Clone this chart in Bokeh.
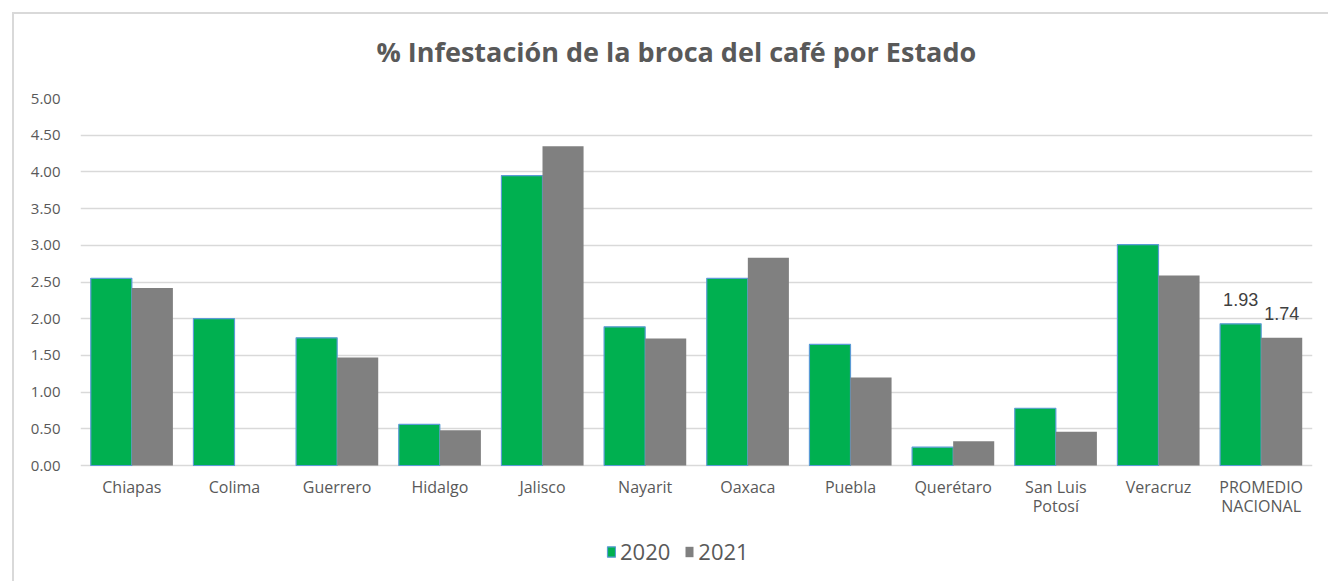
import numpy as np
from bokeh.plotting import figure
from bokeh.models import (ColumnDataSource, FactorRange, Range1d, Legend, LegendItem,
                          NumeralTickFormatter, FixedTicker, InlineStyleSheet)
from bokeh.transform import dodge
from bokeh.core.properties import value
from bokeh.embed import file_html
from bokeh.resources import INLINE

estados = ["Chiapas", "Colima", "Guerrero", "Hidalgo", "Jalisco", "Nayarit",
           "Oaxaca", "Puebla", "Querétaro", "San Luis Potosí", "Veracruz",
           "PROMEDIO NACIONAL"]
etiquetas = ["Chiapas", "Colima", "Guerrero", "Hidalgo", "Jalisco", "Nayarit",
             "Oaxaca", "Puebla", "Querétaro", "San Luis\nPotosí", "Veracruz",
             "PROMEDIO\nNACIONAL"]
v2020 = [2.55, 2.00, 1.74, 0.56, 3.95, 1.89, 2.55, 1.65, 0.25, 0.78, 3.01, 1.93]
v2021 = [2.42, np.nan, 1.47, 0.48, 4.35, 1.73, 2.83, 1.20, 0.33, 0.46, 2.59, 1.74]
y_ticks = [0, 0.5, 1.0, 1.5, 2.0, 2.5, 3.0, 3.5, 4.0, 4.5, 5.0]
title_text = "% Infestación de la broca del café por Estado"

FONT = "Open Sans"
TXT = "#595959"

src = ColumnDataSource(dict(x=estados, a=np.array(v2020, dtype=float),
                            b=np.array(v2021, dtype=float), lab=etiquetas,
                            zero=[0.0] * len(estados)))

# frame spans from the top gridline down to the bottom of the canvas,
# so the category labels and legend can live below y = 0
p = figure(width=1328, height=581, x_range=FactorRange(*estados, range_padding=0),
           y_range=Range1d(-1.58, 5), output_backend="svg", toolbar_location=None,
           x_axis_location=None,
           min_border_left=80, min_border_right=16, min_border_top=98,
           min_border_bottom=0, title=title_text)

# light chart-area border (top and left edges visible, like the reference)
p.stylesheets = [InlineStyleSheet(css=(
    ":host::after { content: ''; position: absolute; left: 12px; top: 12px; "
    "right: 0px; bottom: 0px; border-left: 2px solid #D9D9D9; "
    "border-top: 2px solid #D9D9D9; pointer-events: none; z-index: 10; }"))]

p.title.align = "left"
p.title.offset = 296
p.title.text_font = FONT
p.title.text_font_size = "27px"
p.title.text_font_style = "bold"
p.title.text_color = TXT
p.title.standoff = 57

r1 = p.vbar(x=dodge("x", -0.2, range=p.x_range), top="a", width=0.4, source=src,
            fill_color="#00B050", line_color="#5B9BD5", line_width=1.2)
r2 = p.vbar(x=dodge("x", 0.2, range=p.x_range), top="b", width=0.4, source=src,
            fill_color="#808080", line_color=None)

# category labels (multi-line) under the zero line
p.text(x="x", y="zero", text="lab", source=src, text_align="center",
       text_baseline="top", y_offset=10, text_line_height=0.88,
       text_font=value(FONT), text_font_size="16px", text_color=TXT)

# data labels for the national average
p.text(x=dodge("x", -0.2, range=p.x_range), y="y", text="t",
       source=ColumnDataSource(dict(x=[estados[-1]], y=[v2020[-1]], t=["%.2f" % v2020[-1]])),
       text_align="center", text_baseline="bottom", y_offset=-18,
       text_font=value("Liberation Sans"), text_font_size="18px", text_color="#404040")
p.text(x=dodge("x", 0.2, range=p.x_range), y="y", text="t",
       source=ColumnDataSource(dict(x=[estados[-1]], y=[v2021[-1]], t=["%.2f" % v2021[-1]])),
       text_align="center", text_baseline="bottom", y_offset=-18,
       text_font=value("Liberation Sans"), text_font_size="18px", text_color="#404040")

p.xgrid.grid_line_color = None
p.ygrid.ticker = FixedTicker(ticks=y_ticks)
p.ygrid.grid_line_color = "#D9D9D9"
p.ygrid.grid_line_width = 1.5
p.outline_line_color = None

p.yaxis.ticker = FixedTicker(ticks=y_ticks)
p.yaxis.formatter = NumeralTickFormatter(format="0.00")
p.yaxis.axis_line_color = None
p.yaxis.major_tick_line_color = None
p.yaxis.minor_tick_line_color = None
p.yaxis.major_label_standoff = 14
p.yaxis.major_label_text_font = FONT
p.yaxis.major_label_text_font_size = "15px"
p.yaxis.major_label_text_color = TXT

legend = Legend(items=[LegendItem(label="2020", renderers=[r1]),
                       LegendItem(label="2021", renderers=[r2])],
                orientation="horizontal", location=(526, 15),
                label_text_font=FONT, label_text_font_size="22px",
                label_text_color=TXT, glyph_width=10, glyph_height=13,
                spacing=14, label_standoff=4, border_line_color=None,
                background_fill_alpha=0, margin=0, padding=4)
p.add_layout(legend, "center")

open("out.html", "w").write(file_html(p, INLINE))
